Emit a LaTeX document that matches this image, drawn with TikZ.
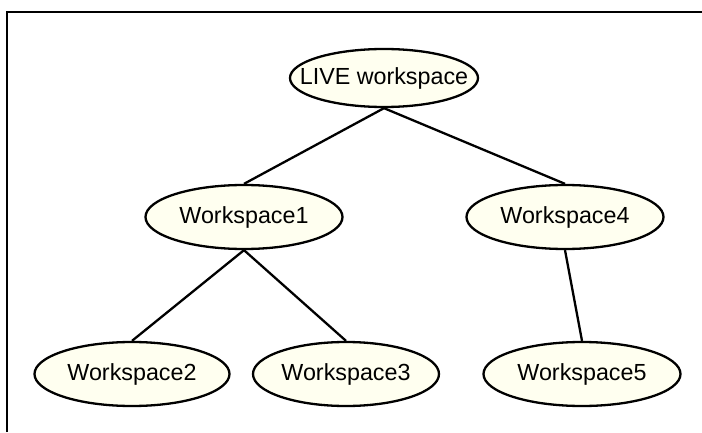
\documentclass[tikz,border=0pt]{standalone}
\usepackage{fontspec}
\setmainfont{Liberation Sans}
\usetikzlibrary{shapes.geometric}
\definecolor{ivory}{HTML}{FFFFF0}
\newcommand{\tighttext}[1]{\makebox[0pt]{#1}}
\begin{document}
\begin{tikzpicture}[x=1pt,y=1pt,
  ws/.style={ellipse, draw=black, line width=2.3pt, fill=ivory, inner sep=0pt,
    minimum height=64pt, font=\fontsize{23.3}{28}\selectfont},
  link/.style={line width=2.3pt},
  frame/.style={line width=2.6pt}]
\useasboundingbox (0,0) rectangle (702,432);
\coordinate (fbl) at (7,0);
\coordinate (ftl) at (7,420);
\coordinate (ftr) at (703,420);
\draw[frame] (fbl) -- (ftl) -- (ftr);
\node[ws, minimum width=188pt, minimum height=58pt] (live) at (384,354) {\tighttext{LIVE workspace}};
\node[ws, minimum width=197pt] (w1) at (244,215) {\tighttext{Workspace1}};
\node[ws, minimum width=197pt] (w4) at (565,215) {\tighttext{Workspace4}};
\node[ws, minimum width=195pt] (w2) at (132,58) {\tighttext{Workspace2}};
\node[ws, minimum width=186pt] (w3) at (346,58) {\tighttext{Workspace3}};
\node[ws, minimum width=197pt] (w5) at (582,58) {\tighttext{Workspace5}};
\draw[link] (live.south) -- (w1.north);
\draw[link] (live.south) -- (w4.north);
\draw[link] (w1.south) -- (w2.north);
\draw[link] (w1.south) -- (w3.north);
\draw[link] (w4.south) -- (w5.north);
\end{tikzpicture}
\end{document}
